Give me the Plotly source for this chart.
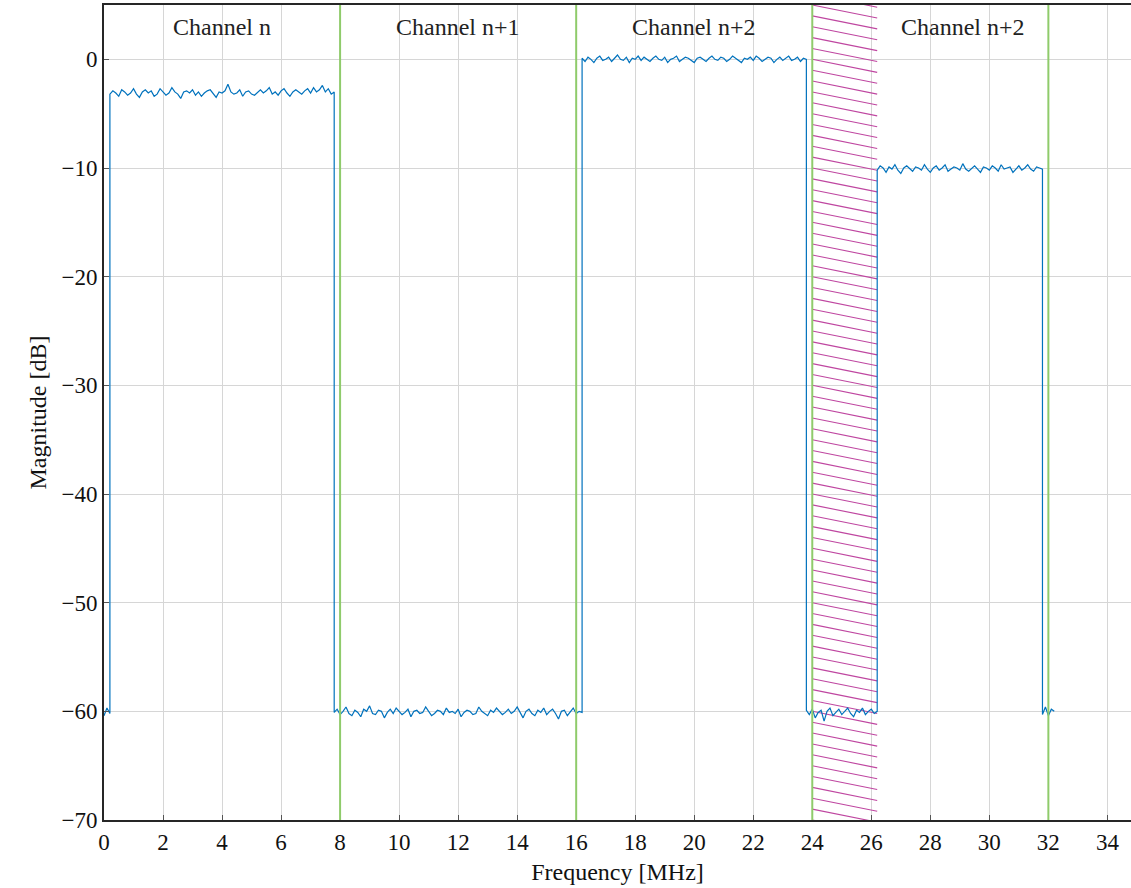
import numpy as np
import plotly.graph_objects as go

# ---------------- data ----------------
# segment boundaries [MHz] and sampled magnitudes [dB] read from the picture
seg_edges = [0.0, 0.2, 7.8, 16.2, 23.8, 26.2, 31.8, 32.2]

seg0 = [-60.4, -59.7, -60.2]
seg1 = [-3.2, -2.9, -3.1, -3.4, -2.8, -3.0, -3.3, -3.1, -2.7, -3.2,
        -3.5, -3.0, -2.8, -3.1, -2.9, -3.4, -3.2, -2.7, -3.0, -3.3,
        -3.1, -2.6, -3.0, -3.2, -3.6, -3.0, -2.9, -3.1, -2.8, -3.3,
        -3.0, -3.4, -3.1, -2.9, -2.8, -3.2, -3.5, -3.0, -3.1, -2.9,
        -2.3, -3.0, -3.2, -3.1, -2.8, -3.4, -3.0, -2.9, -3.2, -3.3,
        -3.0, -2.8, -3.1, -2.9, -2.6, -3.2, -3.0, -3.3, -2.9, -2.7,
        -3.1, -3.4, -3.0, -2.8, -3.0, -3.2, -2.9, -2.7, -3.1, -2.6,
        -3.0, -2.8, -2.4, -3.0, -2.7, -3.2, -3.0]
seg2 = [-60.1, -59.8, -60.3, -60.0, -59.6, -60.2, -60.4, -59.9, -60.1, -60.5,
        -59.8, -60.0, -59.5, -60.2, -60.3, -59.9, -60.0, -60.6, -60.1, -59.8,
        -60.2, -59.7, -60.0, -60.3, -60.1, -59.8, -60.5, -60.0, -59.9, -60.2,
        -60.1, -59.6, -60.0, -60.4, -60.2, -59.9, -60.0, -60.3, -59.7, -60.1,
        -60.0, -60.2, -59.8, -60.5, -60.1, -59.9, -60.0, -60.3, -60.2, -59.6,
        -60.0, -60.2, -60.4, -59.9, -60.1, -59.7, -60.0, -60.3, -60.1, -59.8,
        -60.2, -60.0, -59.6, -60.1, -60.6, -60.0, -59.8, -60.2, -60.4, -59.9,
        -60.1, -59.7, -60.3, -60.0, -59.8, -60.2, -60.7, -60.0, -59.9, -60.4,
        -60.1, -59.7, -60.2, -60.0, -60.1]
seg3 = [0.1, -0.2, 0.2, 0.0, -0.3, 0.1, 0.3, -0.1, 0.0, 0.2,
        -0.2, 0.1, 0.4, 0.0, -0.1, 0.2, -0.3, 0.1, 0.0, 0.3,
        -0.1, 0.2, 0.0, -0.2, 0.1, 0.3, 0.0, -0.1, 0.2, -0.3,
        0.0, 0.1, 0.3, -0.2, 0.0, 0.2, 0.1, -0.1, -0.3, 0.1,
        0.2, 0.0, -0.2, 0.1, 0.3, 0.0, -0.1, 0.2, 0.1, -0.2,
        0.0, 0.3, 0.1, -0.1, -0.3, 0.1, 0.0, 0.2, -0.1, 0.3,
        0.1, -0.2, 0.0, 0.2, 0.1, -0.3, 0.0, 0.2, -0.1, 0.1,
        0.3, -0.1, 0.0, 0.2, -0.2, 0.1, 0.0]
seg4 = [-59.9, -60.3, -59.8, -60.6, -60.1, -59.9, -60.9, -60.0, -59.7, -60.4,
        -60.1, -59.8, -60.3, -60.0, -59.7, -60.2, -60.5, -59.9, -60.1, -59.7,
        -60.3, -60.0, -59.8, -60.2, -60.0]
seg5 = [-10.2, -9.8, -10.0, -10.4, -9.9, -10.1, -9.7, -10.2, -10.5, -10.0,
        -9.8, -10.1, -10.3, -9.9, -10.0, -10.2, -9.7, -10.1, -10.4, -10.0,
        -9.8, -10.2, -10.0, -9.7, -10.3, -10.1, -9.9, -10.0, -10.2, -9.6,
        -10.1, -10.3, -10.0, -9.8, -10.1, -10.4, -9.9, -10.0, -10.2, -9.8,
        -10.0, -10.3, -9.7, -10.1, -10.0, -9.9, -10.4, -10.1, -9.8, -10.2,
        -10.0, -9.7, -10.1, -10.3, -9.9, -10.0, -10.1]
seg6 = [-60.3, -59.6, -60.4, -59.8, -60.0]
segments = [seg0, seg1, seg2, seg3, seg4, seg5, seg6]

channel_edges = [8, 16, 24, 32]                 # green channel borders [MHz]
guard_band = [24.0, 26.2]                       # hatched region [MHz]
label_x = [4, 12, 20, 29.1]
label_y = 3
labels = ["Channel n", "Channel n+1", "Channel n+2", "Channel n+2"]

x_ticks = list(range(0, 35, 2))
y_ticks = list(range(-70, 1, 10))
x_range = [0, 34.8]
y_range = [-70, 5]

# ---------------- build trace ----------------
xs, ys = [], []
for i, vals in enumerate(segments):
    xs.extend(np.linspace(seg_edges[i], seg_edges[i + 1], len(vals)))
    ys.extend(vals)

FONT = "Liberation Serif"
fig = go.Figure()

# hatch lines of the guard band
hx, hy = [], []
drop = 1.2
for y0 in np.arange(y_range[0], y_range[1] + drop + 1, 1.0):
    hx += [guard_band[0], guard_band[1], None]
    hy += [y0, y0 - drop, None]
fig.add_trace(go.Scatter(x=hx, y=hy, mode="lines",
                         line=dict(color="#bf46a0", width=1.1),
                         hoverinfo="skip", showlegend=False))

for e in channel_edges:
    fig.add_vline(x=e, line=dict(color="#8fcb6b", width=2), layer="above")

fig.add_trace(go.Scatter(x=xs, y=ys, mode="lines",
                         line=dict(color="#0072BD", width=1.2),
                         showlegend=False))

for lx, lt in zip(label_x, labels):
    fig.add_annotation(x=lx, y=label_y, text=lt, showarrow=False,
                       font=dict(family=FONT, size=24, color="#222"))

axis_common = dict(showgrid=True, gridcolor="#d6d6d6", gridwidth=1,
                   zeroline=False, showline=True, linecolor="#262626",
                   linewidth=2, ticks="inside", ticklen=5, tickcolor="#555",
                   tickfont=dict(family=FONT, size=23, color="#111"))

fig.update_xaxes(range=x_range, tickvals=x_ticks, mirror=True,
                 title=dict(text="Frequency [MHz]", standoff=10,
                            font=dict(family=FONT, size=24, color="#111")),
                 **axis_common)
fig.update_yaxes(range=y_range, tickvals=y_ticks, mirror=False,
                 title=dict(text="Magnitude [dB]", standoff=8,
                            font=dict(family=FONT, size=24, color="#111")),
                 **axis_common)

fig.update_layout(width=1131, height=888,
                  margin=dict(l=104, r=0, t=5, b=68),
                  plot_bgcolor="white", paper_bgcolor="white")

fig.write_html("out.html", config={"displayModeBar": False},
               post_script="document.body.style.margin='0';"
                           "document.body.style.padding='0';")
